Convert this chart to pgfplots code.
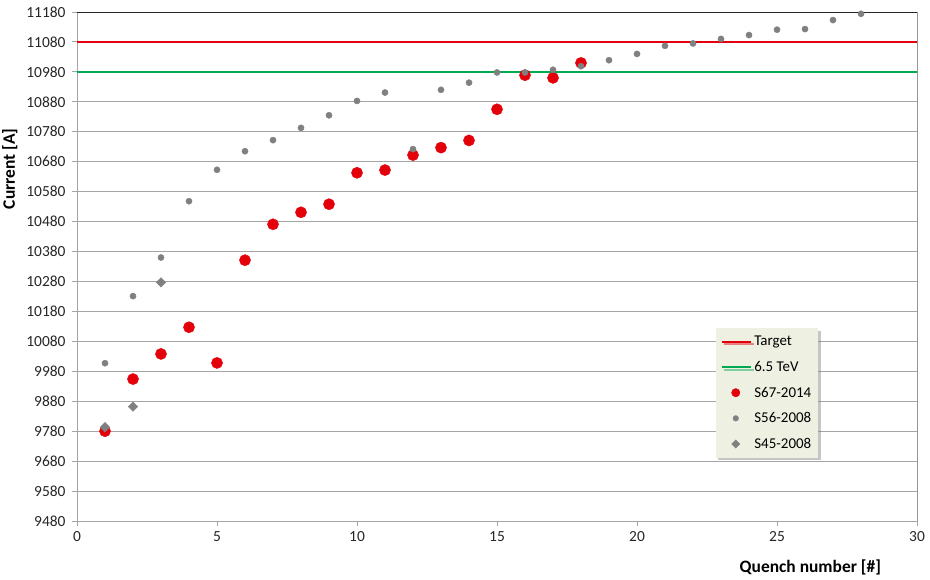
\documentclass[border=0pt]{standalone}
\usepackage{fontspec}
\setmainfont{Carlito}
\usepackage{pgfplots}
\pgfplotsset{compat=1.18}
\usetikzlibrary{shadows}

\definecolor{qred}{RGB}{228,0,10}
\definecolor{qgreen}{RGB}{0,170,80}
\definecolor{qgray}{RGB}{128,128,128}
\definecolor{gridgray}{RGB}{165,165,165}
\definecolor{legfill}{RGB}{238,240,226}

\begin{document}
\begin{tikzpicture}
\begin{axis}[
    scale only axis,
    width=840bp, height=509bp,
    xmin=0, xmax=30, ymin=9480, ymax=11180,
    xtick={0,5,...,30},
    ytick={9480,9580,...,11180},
    scaled ticks=false,
    ymajorgrids,
    grid style={gridgray, line width=0.9pt},
    axis line style={gridgray, line width=0.9pt},
    tick style={gridgray, line width=0.9pt},
    tick align=outside,
    major tick length=5bp,
    xtick pos=bottom, ytick pos=left,
    /pgf/number format/assume math mode=true,
    /pgf/number format/1000 sep={},
    tick label style={font=\fontsize{15.5}{18}\selectfont, text=black!85},
    yticklabel style={xshift=-3bp},
    xticklabel style={yshift=-2bp},
    xlabel={\textbf{Quench number [\#]}},
    ylabel={\textbf{Current [A]}},
    label style={font=\fontsize{17.5}{20}\selectfont},
    xlabel style={at={(axis description cs:0.873,0)}, anchor=center, yshift=-46bp},
    ylabel style={at={(axis description cs:-0.08,0.692)}, anchor=center},
    legend style={at={(axis description cs:0.76,0.379)}, anchor=north west,
        fill=legfill, draw=none, drop shadow={shadow xshift=2.5bp, shadow yshift=-2.5bp, opacity=0.45},
        font=\fontsize{15}{17}\selectfont, row sep=10bp, inner xsep=5bp, inner ysep=6bp},
    legend cell align=left,
    legend image code/.code={\draw[#1] (0cm,0cm) -- (1.05cm,0cm);},
]
\addplot[qred, line width=2.6pt, forget plot] coordinates {(0,11080) (30,11080)};
\addlegendimage{qred, line width=2pt}
\addlegendentry{Target}
\addplot[qgreen, line width=2.6pt, forget plot] coordinates {(0,10980) (30,10980)};
\addlegendimage{qgreen, line width=2pt}
\addlegendentry{6.5 TeV}

\addplot[only marks, mark=*, mark size=5.6bp, qred, mark options={fill=qred, draw=qred},
    legend image code/.code={\draw plot[mark size=4.2bp] coordinates {(0.5cm,0cm)};}]
    coordinates {
    (1,9780) (2,9954) (3,10038) (4,10127) (5,10008) (6,10351) (7,10471)
    (8,10511) (9,10538) (10,10643) (11,10652) (12,10702) (13,10727)
    (14,10751) (15,10855) (16,10969) (17,10960) (18,11010)
    };
\addlegendentry{S67-2014}

\addplot[only marks, mark=*, mark size=3.1bp, qgray, mark options={fill=qgray, draw=qgray},
    legend image code/.code={\draw plot[mark size=2.8bp] coordinates {(0.5cm,0cm)};}]
    coordinates {
    (1,10007) (2,10231) (3,10360) (4,10548) (5,10653) (6,10715) (7,10752)
    (8,10793) (9,10835) (10,10883) (11,10911) (12,10722) (13,10920)
    (14,10944) (15,10978) (16,10978) (17,10987) (18,10999) (19,11019)
    (20,11040) (21,11067) (22,11075) (23,11090) (24,11103) (25,11121)
    (26,11123) (27,11153) (28,11174)
    };
\addlegendentry{S56-2008}

\addplot[only marks, mark=square*, mark size=3.4bp, qgray,
    mark options={fill=qgray, draw=qgray, rotate=45},
    legend image code/.code={\draw plot[mark size=2.9bp] coordinates {(0.5cm,0cm)};}]
    coordinates {(1,9793) (2,9862) (3,10277)};
\addlegendentry{S45-2008}

\draw[black!85, line width=0.9pt] (rel axis cs:0,1) -- (rel axis cs:1,1) -- (rel axis cs:1,0);
\end{axis}
\pgfresetboundingbox
\path (-77bp,-59bp) rectangle (853bp,521bp);
\end{tikzpicture}
\end{document}
